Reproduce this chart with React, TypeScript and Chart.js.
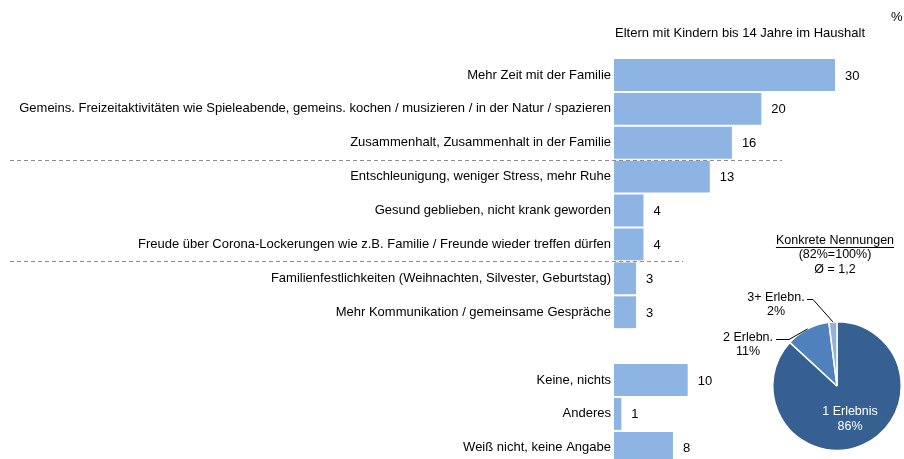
import React, { useEffect, useRef } from 'react';
import { Chart, registerables } from 'chart.js';
Chart.register(...registerables);

const categories = [
  'Mehr Zeit mit der Familie',
  'Gemeins. Freizeitaktivitäten wie Spieleabende, gemeins. kochen / musizieren / in der Natur / spazieren',
  'Zusammenhalt, Zusammenhalt in der Familie',
  'Entschleunigung, weniger Stress, mehr Ruhe',
  'Gesund geblieben, nicht krank geworden',
  'Freude über Corona-Lockerungen wie z.B. Familie / Freunde wieder treffen dürfen',
  'Familienfestlichkeiten (Weihnachten, Silvester, Geburtstag)',
  'Mehr Kommunikation / gemeinsame Gespräche',
  'Keine, nichts',
  'Anderes',
  'Weiß nicht, keine Angabe',
];
const values = [30, 20, 16, 13, 4, 4, 3, 3, 10, 1, 8];
const firstBlockSize = 8;
const separatorsAfter = [3, 6];
const separatorEnds = [22.8, 9.4];

const headerText = 'Eltern mit Kindern bis 14 Jahre im Haushalt';
const unitText = '%';

const pieLabels = ['1 Erlebnis', '2 Erlebn.', '3+ Erlebn.'];
const pieValues = [86, 11, 2];
const pieTitle = ['Konkrete Nennungen', '(82%=100%)', 'Ø = 1,2'];

const FONT = '"Liberation Sans", Arial, sans-serif';
const slotOf = (i: number) => (i < firstBlockSize ? i : i + 1);
const Y_MIN = -0.5;
const Y_MAX = 11.33;

export default function App() {
  const mainRef = useRef<HTMLCanvasElement>(null);
  const pieRef = useRef<HTMLCanvasElement>(null);

  useEffect(() => {
    const labelBySlot: Record<number, string> = {};
    categories.forEach((c, i) => (labelBySlot[slotOf(i)] = c));

    const overlay = {
      id: 'overlay',
      afterDatasetsDraw(chart: any) {
        const { ctx } = chart;
        const xs = chart.scales.x;
        const ys = chart.scales.y;
        ctx.save();
        ctx.font = `13px ${FONT}`;
        ctx.fillStyle = '#000';
        ctx.textBaseline = 'middle';
        // header
        ctx.textAlign = 'left';
        ctx.fillText(unitText, 891, 17);
        ctx.textAlign = 'center';
        ctx.fillText(headerText, 740, 33);
        // value labels
        ctx.textAlign = 'left';
        const meta = chart.getDatasetMeta(0);
        meta.data.forEach((bar: any, i: number) => {
          ctx.fillText(String(values[i]), bar.x + 10, bar.y + 1);
        });
        // separators
        ctx.strokeStyle = '#8c8c8c';
        ctx.lineWidth = 1;
        ctx.setLineDash([4, 3]);
        separatorsAfter.forEach((n, k) => {
          const y = Math.round(ys.getPixelForValue(n - 0.5)) + 0.5;
          ctx.beginPath();
          ctx.moveTo(10, y);
          ctx.lineTo(xs.getPixelForValue(separatorEnds[k]), y);
          ctx.stroke();
        });
        ctx.restore();
      },
    };

    const main = new Chart(mainRef.current!, {
      type: 'bar',
      data: {
        datasets: [
          {
            data: values.map((v, i) => ({ x: v, y: slotOf(i) })),
            backgroundColor: '#8DB4E2',
            borderWidth: 0,
            barPercentage: 0.94,
            categoryPercentage: 1,
          },
        ],
      },
      options: {
        indexAxis: 'y',
        animation: false,
        responsive: false,
        devicePixelRatio: 1,
        layout: { padding: { top: 58, right: 10, bottom: 0, left: 0 } },
        plugins: { legend: { display: false }, tooltip: { enabled: false } },
        scales: {
          x: { type: 'linear', min: 0, max: 38, display: false },
          y: {
            type: 'linear',
            reverse: true,
            offset: false,
            bounds: 'data',
            min: Y_MIN,
            max: Y_MAX,
            grid: { display: false, drawTicks: false, offset: false },
            border: { display: false },
            afterBuildTicks(scale: any) {
              scale.ticks = categories.map((_, i) => ({ value: slotOf(i) }));
              scale.min = Y_MIN;
              scale.max = Y_MAX;
            },
            afterFit(scale: any) {
              scale.width = 614;
              scale.paddingTop = 0;
              scale.paddingBottom = 0;
            },
            ticks: {
              padding: 3,
              color: '#000',
              font: { size: 13, family: FONT },
              callback: (v: any) => labelBySlot[v as number] ?? '',
            },
          },
        },
      },
      plugins: [overlay],
    } as any);

    const pieOverlay = {
      id: 'pieOverlay',
      afterDatasetsDraw(chart: any) {
        const { ctx } = chart;
        const arcs = chart.getDatasetMeta(0).data;
        const cx = arcs[0].x;
        const cy = arcs[0].y;
        const r = arcs[0].outerRadius;
        ctx.save();
        ctx.font = `12.5px ${FONT}`;
        ctx.textAlign = 'center';
        ctx.textBaseline = 'middle';
        ctx.fillStyle = '#000';
        // title
        const tx = cx - 2;
        ctx.fillText(pieTitle[0], tx, 16);
        const w = ctx.measureText(pieTitle[0]).width;
        ctx.strokeStyle = '#000';
        ctx.lineWidth = 1;
        ctx.beginPath();
        ctx.moveTo(tx - w / 2, 22.5);
        ctx.lineTo(tx + w / 2, 22.5);
        ctx.stroke();
        ctx.fillText(pieTitle[1], tx, 30);
        ctx.fillText(pieTitle[2], tx, 45);
        // inner label
        ctx.fillStyle = '#fff';
        ctx.fillText(pieLabels[0], cx + 13, cy + 26);
        ctx.fillText(pieValues[0] + '%', cx + 13, cy + 41);
        // outer labels with leaders
        ctx.fillStyle = '#000';
        const outer = [
          { i: 1, lx: cx - 89, ly: cy - 48, sx: cx - 61, ex: cx - 48 },
          { i: 2, lx: cx - 61, ly: cy - 88, sx: cx - 30, ex: cx - 24 },
        ];
        outer.forEach((o) => {
          ctx.fillText(pieLabels[o.i], o.lx, o.ly);
          ctx.fillText(pieValues[o.i] + '%', o.lx, o.ly + 14);
          const a = arcs[o.i];
          const mid = (a.startAngle + a.endAngle) / 2;
          const px = cx + r * Math.cos(mid);
          const py = cy + r * Math.sin(mid);
          ctx.beginPath();
          ctx.moveTo(o.sx, o.ly + 1.5);
          ctx.lineTo(o.ex, o.ly + 1.5);
          ctx.lineTo(px, py);
          ctx.stroke();
        });
        ctx.restore();
      },
    };

    const pie = new Chart(pieRef.current!, {
      type: 'pie',
      data: {
        labels: pieLabels,
        datasets: [
          {
            data: pieValues,
            backgroundColor: ['#376092', '#4F81BD', '#95B3D7'],
            borderColor: '#ffffff',
            borderWidth: 1.5,
          },
        ],
      },
      options: {
        animation: false,
        responsive: false,
        devicePixelRatio: 1,
        layout: { padding: { left: 72, right: 2, top: 96, bottom: 8 } },
        plugins: { legend: { display: false }, tooltip: { enabled: false } },
      },
      plugins: [pieOverlay],
    } as any);

    return () => {
      main.destroy();
      pie.destroy();
    };
  }, []);

  return (
    <div style={{ position: 'fixed', left: 0, top: 0, width: 904, height: 459, background: '#fff' }}>
      <canvas ref={mainRef} width={904} height={459} style={{ position: 'absolute', left: 0, top: 0 }} />
      <canvas ref={pieRef} width={204} height={234} style={{ position: 'absolute', left: 700, top: 225 }} />
    </div>
  );
}
